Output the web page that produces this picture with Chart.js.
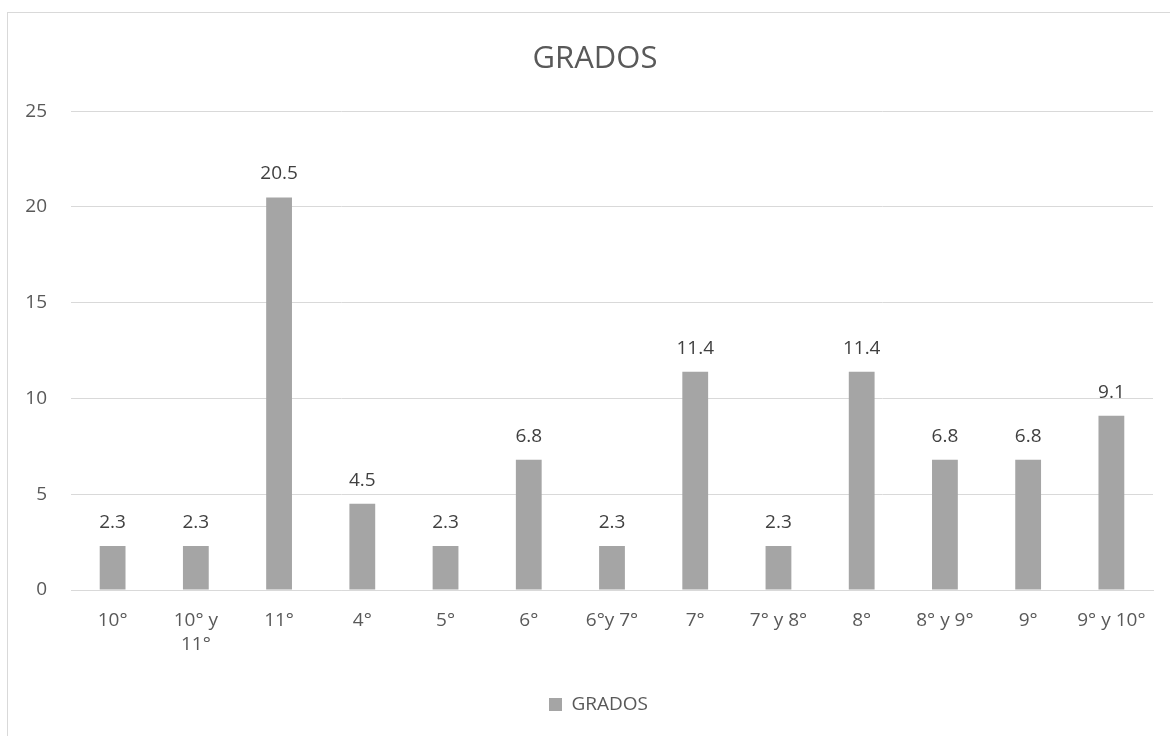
<!DOCTYPE html>
<html>
<head>
<meta charset="utf-8">
<script src="https://cdn.jsdelivr.net/npm/chart.js@4"></script>
<style>
  body { margin: 0; background: #fff; overflow: hidden; }
  #box {
    position: absolute; left: 7px; top: 12px;
    width: 1162px; height: 723px;
    border-left: 1px solid #d9d9d9;
    border-top: 1px solid #d9d9d9;
  }
</style>
</head>
<body>
<div id="box"><canvas id="chart"></canvas></div>
<script>
const categories = ['10°', ['10° y', '11°'], '11°', '4°', '5°', '6°', '6°y 7°', '7°', '7° y 8°', '8°', '8° y 9°', '9°', '9° y 10°'];
const values = [2.3, 2.3, 20.5, 4.5, 2.3, 6.8, 2.3, 11.4, 2.3, 11.4, 6.8, 6.8, 9.1];
const yTicks = [0, 5, 10, 15, 20, 25];

const font = "'Open Sans', 'Noto Sans', sans-serif";

// values above each bar
const barLabels = {
  id: 'barLabels',
  afterDatasetsDraw(chart) {
    const ctx = chart.ctx;
    const meta = chart.getDatasetMeta(0);
    ctx.save();
    ctx.font = '19px ' + font;
    ctx.fillStyle = '#404040';
    ctx.textAlign = 'center';
    ctx.textBaseline = 'alphabetic';
    meta.data.forEach((bar, i) => {
      ctx.fillText(values[i].toFixed(1), bar.x, bar.y - 18);
    });
    ctx.restore();
  }
};

// title and legend sit a bit right of centre in the original
const nudge = {
  id: 'nudge',
  afterLayout(chart) {
    chart.titleBlock.left += 29;
    chart.legend.left += 36;
  }
};

const ctx = document.getElementById('chart').getContext('2d');
new Chart(ctx, {
  type: 'bar',
  data: {
    labels: categories,
    datasets: [{
      label: 'GRADOS',
      data: values,
      backgroundColor: '#a5a5a5',
      barPercentage: 0.62,
      categoryPercentage: 0.5
    }]
  },
  options: {
    responsive: true,
    maintainAspectRatio: false,
    animation: false,
    layout: { padding: { left: 0, right: 17, top: 0, bottom: 12 } },
    scales: {
      x: {
        afterFit: (axis) => { axis.height = 95; },
        grid: { display: false, drawTicks: false },
        border: { color: '#d9d9d9' },
        ticks: {
          color: '#595959',
          font: { size: 19, family: font, lineHeight: 1.3 },
          padding: 18, maxRotation: 0, autoSkip: false
        }
      },
      y: {
        min: 0,
        max: 25,
        afterBuildTicks: (axis) => { axis.ticks = yTicks.map(v => ({ value: v })); },
        afterFit: (axis) => { axis.width = 63; },
        grid: { color: '#d9d9d9', drawTicks: false },
        border: { display: false },
        ticks: { color: '#595959', font: { size: 19, family: font }, padding: 24 }
      }
    },
    plugins: {
      title: {
        display: true,
        text: 'GRADOS',
        color: '#595959',
        font: { size: 31, family: font, weight: 'normal', lineHeight: 1.2 },
        padding: { top: 28, bottom: 33 }
      },
      legend: {
        position: 'bottom',
        labels: {
          color: '#595959',
          font: { size: 19, family: font },
          boxWidth: 13,
          boxHeight: 13,
          padding: 10
        }
      },
      tooltip: { enabled: false }
    }
  },
  plugins: [barLabels, nudge]
});
</script>
</body>
</html>
